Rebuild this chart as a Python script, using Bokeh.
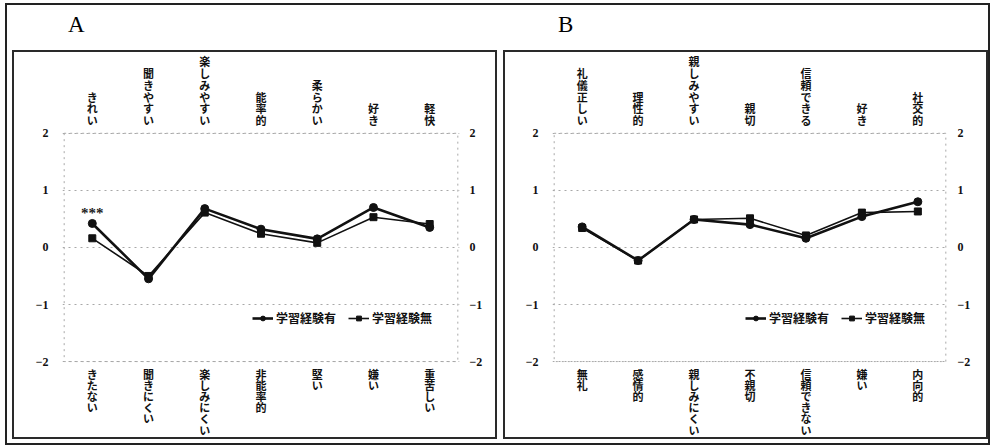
from bokeh.plotting import figure
from bokeh.models import (ColumnDataSource, Range1d, LinearAxis, FixedTicker,
                          Legend, LegendItem, Div)
from bokeh.layouts import row, column
from bokeh.core.properties import value
from bokeh.embed import file_html
from bokeh.resources import INLINE

JP = "Noto Sans CJK JP"
SERIF = "Liberation Serif"

series_names = ["学習経験有", "学習経験無"]
y_ticks = [-2, -1, 0, 1, 2]

# Panel A
top_A = ["きれい", "聞きやすい", "楽しみやすい", "能率的", "柔らかい", "好き", "軽快"]
bot_A = ["きたない", "聞きにくい", "楽しみにくい", "非能率的", "堅い", "嫌い", "重苦しい"]
with_A = [0.42, -0.55, 0.68, 0.32, 0.15, 0.70, 0.35]
without_A = [0.16, -0.50, 0.61, 0.24, 0.08, 0.53, 0.41]
sig_A = ["***", "", "", "", "", "", ""]

# Panel B
top_B = ["礼儀正しい", "理性的", "親しみやすい", "親切", "信頼できる", "好き", "社交的"]
bot_B = ["無礼", "感情的", "親しみにくい", "不親切", "信頼できない", "嫌い", "内向的"]
with_B = [0.36, -0.23, 0.49, 0.40, 0.16, 0.54, 0.80]
without_B = [0.34, -0.23, 0.49, 0.51, 0.21, 0.61, 0.63]
sig_B = ["", "", "", "", "", "", ""]


def style_axis(ax, standoff):
    ax.ticker = FixedTicker(ticks=y_ticks)
    ax.axis_line_color = None
    ax.major_tick_line_color = None
    ax.minor_tick_line_color = None
    ax.major_tick_out = 0
    ax.major_tick_in = 0
    ax.major_label_standoff = standoff
    ax.major_label_text_font = SERIF
    ax.major_label_text_font_style = "bold"
    ax.major_label_text_font_size = "12px"
    ax.major_label_text_color = "#111111"


def make_panel(top_labels, bot_labels, with_vals, without_vals, sig, width,
               left_b, right_b, legend_x):
    n = len(top_labels)
    xs = list(range(n))
    e = 0.03
    p = figure(width=width, height=389,
               x_range=Range1d(-0.5 - e, n - 0.5 + e),
               y_range=Range1d(-3.40, 3.415),
               output_backend="svg", toolbar_location=None,
               x_axis_location=None, y_axis_location="left",
               min_border_left=left_b, min_border_right=right_b,
               min_border_top=0, min_border_bottom=0,
               background_fill_color="white", border_fill_color="white",
               outline_line_color=None,
               styles={"border": "2px solid #2a2a2a"})
    style_axis(p.yaxis[0], 14)
    rax = LinearAxis()
    style_axis(rax, 10)
    p.add_layout(rax, "right")
    p.xgrid.visible = False
    p.ygrid.ticker = FixedTicker(ticks=y_ticks)
    p.ygrid.grid_line_color = "#a8a8a8"
    p.ygrid.grid_line_dash = "dotted"
    p.ygrid.grid_line_width = 1

    # plot-area border (dotted)
    p.quad(left=[-0.5], right=[n - 0.5], bottom=[min(y_ticks)], top=[max(y_ticks)],
           fill_color=None, line_color="#a8a8a8", line_dash="dotted", line_width=1)

    src = ColumnDataSource(dict(x=xs, w=with_vals, wo=without_vals, sig=sig))
    r2 = p.line("x", "wo", source=src, line_color="#111111", line_width=1.6)
    s2 = p.scatter("x", "wo", source=src, marker="square", size=7,
                   fill_color="#111111", line_color="#111111")
    r1 = p.line("x", "w", source=src, line_color="#111111", line_width=2.6)
    s1 = p.scatter("x", "w", source=src, marker="circle", size=8,
                   fill_color="#111111", line_color="#111111")

    p.text("x", "w", text="sig", source=src, text_font=value(SERIF),
           text_font_style="bold", text_font_size="15px", text_align="center",
           text_baseline="middle", y_offset=-10, text_color="#222222")

    lab = ColumnDataSource(dict(
        x=xs,
        ytop=[max(y_ticks)] * n,
        ybot=[min(y_ticks)] * n,
        ttop=["\n".join(s) for s in top_labels],
        tbot=["\n".join(s) for s in bot_labels],
    ))
    p.text("x", "ytop", text="ttop", source=lab, text_font=value(JP),
           text_font_style="bold", text_font_size="11px", text_align="center",
           text_baseline="bottom", y_offset=-5, text_line_height=0.74,
           text_color="#111111")
    p.text("x", "ybot", text="tbot", source=lab, text_font=value(JP),
           text_font_style="bold", text_font_size="11px", text_align="center",
           text_baseline="top", y_offset=4, text_line_height=0.70,
           text_color="#111111")

    legend = Legend(items=[LegendItem(label=series_names[0], renderers=[r1, s1]),
                           LegendItem(label=series_names[1], renderers=[r2, s2])],
                    orientation="horizontal", location=(legend_x, 115),
                    border_line_color=None, background_fill_alpha=0,
                    label_text_font=JP, label_text_font_size="12px",
                    label_text_font_style="bold", label_text_color="#111111",
                    glyph_width=21, glyph_height=12, spacing=12, padding=0,
                    margin=0, label_standoff=3)
    p.add_layout(legend)
    return p


pA = make_panel(top_A, bot_A, with_A, without_A, sig_A, 485, 48, 40, 190)
pB = make_panel(top_B, bot_B, with_B, without_B, sig_B, 485, 47, 43, 193)

divA = Div(text='<span style="font-family:\'Liberation Serif\';font-size:23px;line-height:23px">A</span>',
           width=485, height=45, margin=0,
           styles={"padding-left": "56px", "padding-top": "8px", "box-sizing": "border-box"})
divB = Div(text='<span style="font-family:\'Liberation Serif\';font-size:23px;line-height:23px">B</span>',
           width=485, height=45, margin=0,
           styles={"padding-left": "55px", "padding-top": "8px", "box-sizing": "border-box"})

colA = column(divA, pA, spacing=0)
colB = column(divB, pB, spacing=0)
layout = row(colA, colB, spacing=6, margin=(3, 0, 0, 5),
             styles={"border": "2px solid #222222", "padding": "0px 0px 4px 5px"})

open("out.html", "w").write(file_html(layout, INLINE))
